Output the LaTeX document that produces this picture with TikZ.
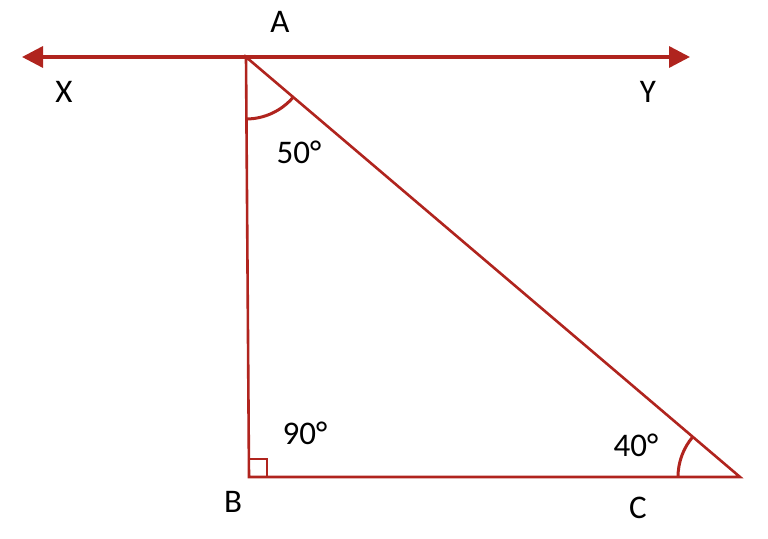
\documentclass[tikz,border=0pt]{standalone}
\usepackage{fontspec}
\setmainfont{Carlito}
\usetikzlibrary{arrows.meta,angles}
\definecolor{linered}{RGB}{176,36,30}

\begin{document}
\begin{tikzpicture}[x=1pt,y=1pt]
  \tikzstyle{every node}+=[inner sep=0pt,font=\fontsize{33}{39}\selectfont]
  \tikzstyle{side}=[linered,line width=2.6pt]
  \tikzstyle{parallel}=[linered,line width=3.4pt,{Triangle[length=21pt,width=21pt]}-{Triangle[length=21pt,width=21pt]}]
  \tikzstyle{anglearc}=[draw,linered,line width=3pt,angle radius=62pt]
  \useasboundingbox (0,0) rectangle (768,538);
  \coordinate (X) at (22,481);
  \coordinate (Y) at (690,481);
  \coordinate (A) at (246,481);
  \coordinate (B) at (249,61);
  \coordinate (C) at (740,61);
  % line XY through A
  \draw [parallel] (X) -- (Y);
  % triangle
  \draw [side] (A) -- (B) -- (C) -- cycle;
  \draw [side] (B) rectangle ++(18,18);
  \pic [anglearc] {angle = B--A--C};
  \pic [anglearc] {angle = A--C--B};
  % labels
  \node (labelA) at (280,516) {A};
  \node (labelX) at (64,446) {X};
  \node (labelY) at (648,446) {Y};
  \node (labelB) at (233,36) {B};
  \node (labelC) at (638,30) {C};
  \node (angleA) at (299,386) {50°};
  \node (angleB) at (305,105) {90°};
  \node (angleC) at (636,93) {40°};
\end{tikzpicture}
\end{document}
